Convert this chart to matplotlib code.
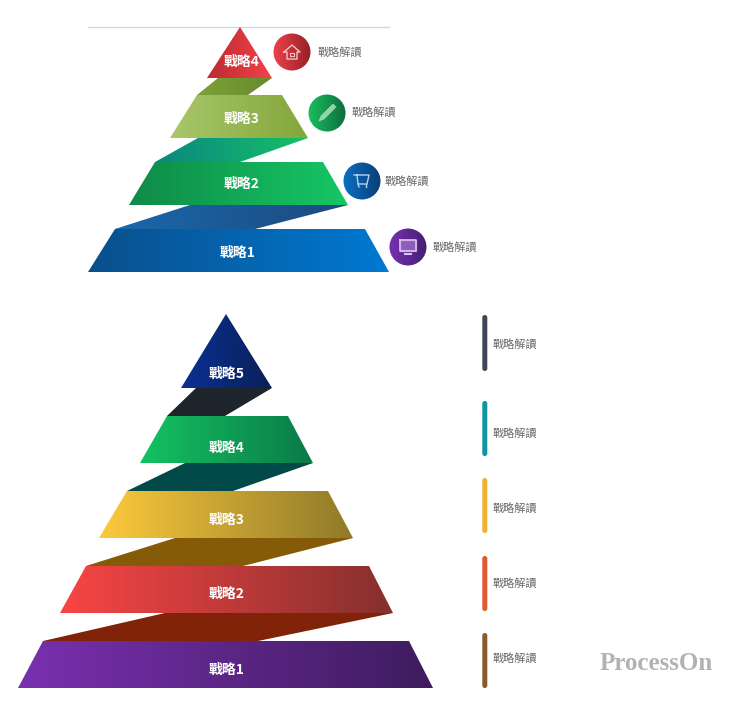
import numpy as np
import matplotlib
matplotlib.use("Agg")
import matplotlib.pyplot as plt
from matplotlib.colors import LinearSegmentedColormap
from matplotlib.patches import Polygon, Circle, FancyBboxPatch

plt.rcParams['font.family'] = ['Noto Sans CJK TC', 'DejaVu Sans']

# text of the two pyramids
top_labels = ["戰略4", "戰略3", "戰略2", "戰略1"]
bottom_labels = ["戰略5", "戰略4", "戰略3", "戰略2", "戰略1"]
note_text = "戰略解讀"
watermark = "ProcessOn"

# layout of the top pyramid, in image pixels: (y top, y bottom, top left, top right, bottom left, bottom right)
top_layers = [
    (27, 78, 240, 240, 207, 272),
    (95, 138, 197, 282, 170, 308),
    (162, 205, 155, 323, 129, 348),
    (229, 272, 115, 365, 88, 389),
]
top_links = [
    (78, 95, 218, 272, 197, 248),
    (138, 162, 198, 308, 155, 240),
    (205, 229, 190, 348, 115, 255),
]
top_layer_colors = [("#bd2a30", "#f2414a"), ("#a9c76c", "#84a63a"), ("#0f8a48", "#16c765"), ("#0a4f8c", "#0079d2")]
top_link_colors = [("#7ba238", "#688a30"), ("#0a8880", "#14c068"), ("#1a68aa", "#1d4a80")]
top_label_y = [62, 119, 184, 253]
top_label_x = [241.5, 241.5, 241.5, 237.5]

icon_x = [292, 327, 362, 408]
icon_y = [52, 113, 181, 247]
icon_r = 18.5
icon_colors = [("#f2414a", "#8e2025"), ("#1cc060", "#0a6a3a"), ("#0a72c8", "#0a3a70"), ("#7a30b0", "#401e70")]
icon_note_x = [318, 352, 385, 433]
icon_note_y = [52, 112, 181, 247]

# layout of the bottom pyramid
bottom_layers = [
    (314, 388, 226, 226, 181, 272),
    (416, 463, 167, 288, 140, 313),
    (491, 538, 127, 328, 99, 353),
    (566, 613, 86, 369, 60, 393),
    (641, 688, 43, 409, 18, 433),
]
bottom_links = [
    (388, 416, 196, 272, 167, 225),
    (463, 491, 185, 313, 127, 233),
    (538, 566, 175, 353, 86, 243),
    (613, 641, 165, 393, 43, 258),
]
bottom_layer_colors = [("#0a3094", "#0a2058"), ("#14c262", "#0a7a48"), ("#fdca3c", "#8f7a2a"),
                       ("#f94545", "#85302e"), ("#7a30b0", "#3e1c5e")]
bottom_link_colors = ["#1e252c", "#024a4a", "#855a08", "#802308"]
bottom_label_y = [374, 448, 520, 594, 670]

bar_top = [315, 401, 478, 556, 633]
bar_bottom = [371, 456, 533, 611, 688]
bar_colors = ["#414656", "#0f96a0", "#f0b030", "#e05a30", "#8a5a30"]
bar_note_y = [344, 433, 508, 583, 658]


""" fill a patch with a left to right gradient """
def gradient_fill(ax, patch, c1, c2, extent):
    ax.add_patch(patch)
    cmap = LinearSegmentedColormap.from_list("g", [c1, c2])
    grad = np.linspace(0, 1, 256).reshape(1, -1)
    im = ax.imshow(grad, cmap=cmap, extent=extent, aspect='auto', zorder=patch.get_zorder(),
                   interpolation='bilinear')
    im.set_clip_path(patch)


""" one pyramid slice, or the slanted band between two slices """
def draw_slice(ax, layer, c1, c2, z):
    yt, yb, tl, tr, bl, br = layer
    pts = [(tl, yt), (tr, yt), (br, yb), (bl, yb)]
    patch = Polygon(pts, closed=True, facecolor='none', edgecolor='none', zorder=z)
    gradient_fill(ax, patch, c1, c2, (min(tl, bl), max(tr, br), yb, yt))


def draw_house(ax, x, y, col):
    xs = [x - 8, x, x + 8, x + 5, x + 5, x - 5, x - 5, x - 8]
    ys = [y, y - 7, y, y, y + 7, y + 7, y, y]
    ax.plot(xs, ys, color=col, lw=1, zorder=6)
    ax.plot([x - 2, x + 2, x + 2, x - 2, x - 2], [y + 1, y + 1, y + 4, y + 4, y + 1], color=col, lw=0.8, zorder=6)


def draw_pencil(ax, x, y, col):
    pts = [(x + 6, y - 9), (x + 9, y - 6), (x - 3, y + 6), (x - 8, y + 8), (x - 6, y + 3)]
    ax.add_patch(Polygon(pts, closed=True, facecolor=col, edgecolor=col, lw=0.5, alpha=0.85, zorder=6))


def draw_cart(ax, x, y, col):
    xs = [x - 8, x - 5, x + 7, x + 5, x - 4, x - 5]
    ys = [y - 6, y - 6, y - 6, y + 3, y + 3, y - 6]
    ax.plot(xs, ys, color=col, lw=1, zorder=6)
    ax.plot([x - 4, x - 3], [y + 3, y + 6], color=col, lw=1, zorder=6)
    ax.plot([x + 4, x + 4], [y + 3, y + 6], color=col, lw=1, zorder=6)


def draw_monitor(ax, x, y, col):
    xs = [x - 8, x + 8, x + 8, x - 8, x - 8]
    ys = [y - 7, y - 7, y + 4, y + 4, y - 7]
    ax.add_patch(Polygon(list(zip(xs, ys)), closed=True, facecolor=col, edgecolor=col, alpha=0.55, lw=1, zorder=6))
    ax.plot(xs, ys, color="#d9c4f0", lw=1.2, zorder=6)
    ax.plot([x - 3, x + 3], [y + 7, y + 7], color="#d9c4f0", lw=1.5, zorder=6)


def main():
    fig = plt.figure(figsize=(7.4, 7.07), dpi=100)
    ax = fig.add_axes([0, 0, 1, 1])
    ax.axis('off')

    # thin line over the top pyramid
    ax.plot([88, 389], [26.7, 26.7], color="#c9dce2", lw=1, zorder=1)

    for link, (c1, c2) in zip(top_links, top_link_colors):
        draw_slice(ax, link, c1, c2, 2)
    for layer, (c1, c2) in zip(top_layers, top_layer_colors):
        draw_slice(ax, layer, c1, c2, 3)
    for name, x, y in zip(top_labels, top_label_x, top_label_y):
        ax.text(x, y, name, color='white', fontsize=10, fontweight='bold', ha='center', va='center', zorder=7)

    # round icons and their notes, the gradient image is a bit larger than the circle so it is not cut square
    for x, y, (c1, c2) in zip(icon_x, icon_y, icon_colors):
        circle = Circle((x, y), icon_r, facecolor='none', edgecolor='none', zorder=4)
        pad = icon_r + 2
        gradient_fill(ax, circle, c1, c2, (x - pad, x + pad, y + pad, y - pad))
    draw_house(ax, icon_x[0], icon_y[0], "#f6c0c0")
    draw_pencil(ax, icon_x[1], icon_y[1], "#a8e0b8")
    draw_cart(ax, icon_x[2], icon_y[2], "#b0d4f2")
    draw_monitor(ax, icon_x[3], icon_y[3], "#b98be0")
    for x, y in zip(icon_note_x, icon_note_y):
        ax.text(x, y, note_text, color="#6a6a6a", fontsize=8, ha='left', va='center', zorder=7)

    for link, col in zip(bottom_links, bottom_link_colors):
        draw_slice(ax, link, col, col, 2)
    for layer, (c1, c2) in zip(bottom_layers, bottom_layer_colors):
        draw_slice(ax, layer, c1, c2, 3)
    for name, y in zip(bottom_labels, bottom_label_y):
        ax.text(226.5, y, name, color='white', fontsize=10, fontweight='bold', ha='center', va='center', zorder=7)

    # rounded bars on the right
    for yt, yb, col, note_y in zip(bar_top, bar_bottom, bar_colors, bar_note_y):
        bar = FancyBboxPatch((484.8, yt + 2.5), 0, yb - yt - 5, boxstyle="round,pad=2.5,rounding_size=2.5",
                             facecolor=col, edgecolor='none', zorder=3)
        ax.add_patch(bar)
        ax.text(492.5, note_y, note_text, color="#6a6a6a", fontsize=8, ha='left', va='center', zorder=7)

    ax.text(600, 663, watermark, color="#b2b2b2", fontsize=18, fontweight='bold',
            family='Liberation Serif', ha='left', va='center', zorder=7)

    ax.set_xlim(0, 740)
    ax.set_ylim(707, 0)
    fig.savefig("out.png", dpi=100, facecolor='white')


if __name__ == "__main__":
    main()
